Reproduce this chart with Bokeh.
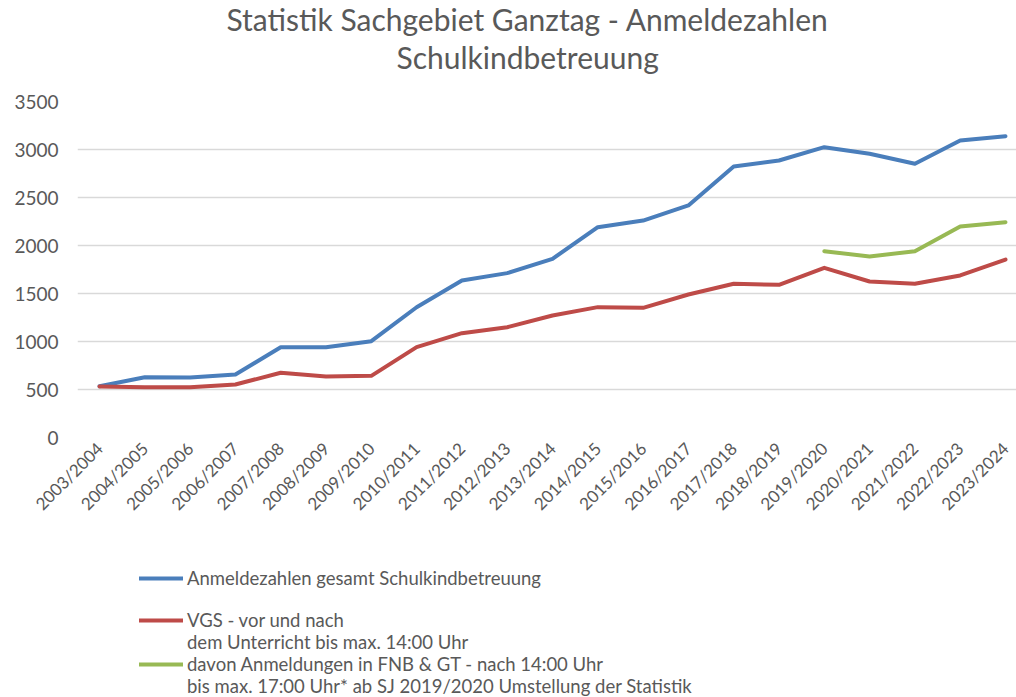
import math
from bokeh.plotting import figure
from bokeh.layouts import column
from bokeh.models import (Range1d, FixedTicker, Legend, LegendItem, Title)
from bokeh.embed import file_html
from bokeh.resources import INLINE

# ---- data ----
years = ["2003/2004", "2004/2005", "2005/2006", "2006/2007", "2007/2008", "2008/2009",
         "2009/2010", "2010/2011", "2011/2012", "2012/2013", "2013/2014", "2014/2015",
         "2015/2016", "2016/2017", "2017/2018", "2018/2019", "2019/2020", "2020/2021",
         "2021/2022", "2022/2023", "2023/2024"]
gesamt = [534, 628, 626, 656, 941, 941, 1003, 1357, 1635, 1712, 1861, 2191,
          2260, 2417, 2823, 2885, 3024, 2955, 2851, 3094, 3139]
vgs = [532, 524, 524, 552, 674, 635, 642, 941, 1087, 1149, 1271, 1358,
       1351, 1490, 1601, 1590, 1767, 1625, 1601, 1688, 1854]
fnb_gt = [None] * 16 + [1941, 1885, 1941, 2198, 2243]
y_ticks = [0, 500, 1000, 1500, 2000, 2500, 3000, 3500]

labels = [
    ("Anmeldezahlen gesamt Schulkindbetreuung", " "),
    ("VGS - vor und nach", "dem Unterricht bis max. 14:00 Uhr"),
    ("davon Anmeldungen in FNB & GT - nach 14:00 Uhr",
     "bis max. 17:00 Uhr* ab SJ 2019/2020 Umstellung der Statistik"),
]
colors = ["#4A7EBB", "#BE4B48", "#98B954"]
title_line1 = "Statistik Sachgebiet Ganztag - Anmeldezahlen"
title_line2 = "Schulkindbetreuung"

FONT = "Lato"
GRAY = "#595959"

xs = list(range(len(years)))
gx = [i for i, v in zip(xs, fnb_gt) if v is not None]
gy = [v for v in fnb_gt if v is not None]

p = figure(width=1016, height=560, output_backend="svg", toolbar_location=None,
           x_range=Range1d(-0.486, 20.243), y_range=Range1d(0, 3500),
           min_border_left=77, min_border_right=0, min_border_top=0, min_border_bottom=123)
p.title = None
p.outline_line_color = None
p.background_fill_color = "white"
p.border_fill_color = "white"

# title: spacer (closest to frame), line 2, line 1
spacer = Title(text=" ", text_font=FONT, text_font_size="10px", standoff=11,
               vertical_align="bottom")
t2 = Title(text=title_line2, align="left", offset=319, text_font=FONT, text_font_size="30px",
           text_font_style="normal", text_color=GRAY, standoff=0, vertical_align="top")
t1 = Title(text=title_line1, align="left", offset=149, text_font=FONT, text_font_size="30px",
           text_font_style="normal", text_color=GRAY, standoff=0, vertical_align="top")
p.add_layout(spacer, "above")
p.add_layout(t2, "above")
p.add_layout(t1, "above")

p.line(xs, gesamt, line_color=colors[0], line_width=4, line_join="round", line_cap="round")
p.line(xs, vgs, line_color=colors[1], line_width=4, line_join="round", line_cap="round")
p.line(gx, gy, line_color=colors[2], line_width=4, line_join="round", line_cap="round")

# axes
p.xaxis.ticker = FixedTicker(ticks=xs)
p.xaxis.major_label_overrides = {i: s for i, s in enumerate(years)}
p.xaxis.major_label_orientation = math.pi / 4
p.xaxis.major_label_text_font = FONT
p.xaxis.major_label_text_font_size = "17px"
p.xaxis.major_label_text_color = GRAY
p.xaxis.axis_line_color = None
p.xaxis.major_tick_line_color = None
p.xaxis.minor_tick_line_color = None
p.xaxis.major_tick_out = 0
p.xaxis.major_label_standoff = 8

p.yaxis.ticker = FixedTicker(ticks=y_ticks)
p.yaxis.major_label_text_font = FONT
p.yaxis.major_label_text_font_size = "19px"
p.yaxis.major_label_text_color = GRAY
p.yaxis.axis_line_color = None
p.yaxis.major_tick_line_color = None
p.yaxis.minor_tick_line_color = None
p.yaxis.major_tick_out = 0
p.yaxis.major_label_standoff = 19

p.xgrid.grid_line_color = None
p.ygrid.ticker = FixedTicker(ticks=y_ticks)
p.ygrid.grid_line_color = "#D9D9D9"
p.ygrid.grid_line_width = 1.5

# ---- legend panel (separate figure below the chart, frames aligned) ----
lf = figure(width=1016, height=137, output_backend="svg", toolbar_location=None,
            x_axis_type=None, y_axis_type=None,
            min_border_left=77, min_border_right=0, min_border_top=0, min_border_bottom=0)
lf.outline_line_color = None
lf.xgrid.grid_line_color = None
lf.ygrid.grid_line_color = None
lf.border_fill_color = "white"

nan = float("nan")
sample_renderers = [lf.line(x=[nan], y=[nan], line_color=c, line_width=4, line_cap="round")
                    for c in colors]
r_blank = lf.line(x=[nan], y=[nan], line_alpha=0)

items = []
for (l1, l2), r in zip(labels, sample_renderers):
    items.append(LegendItem(label=l1, renderers=[r]))
    items.append(LegendItem(label=l2, renderers=[r_blank]))

legend = Legend(items=items, location=(62, 0), orientation="vertical",
                label_text_font=FONT, label_text_font_size="18.5px", label_text_color=GRAY,
                glyph_width=44, glyph_height=20, label_height=20, label_standoff=4,
                spacing=0, padding=0, margin=0,
                border_line_color=None, background_fill_alpha=0)
lf.add_layout(legend, "center")

layout = column(p, lf, spacing=0)
open("out.html", "w").write(file_html(layout, INLINE))
